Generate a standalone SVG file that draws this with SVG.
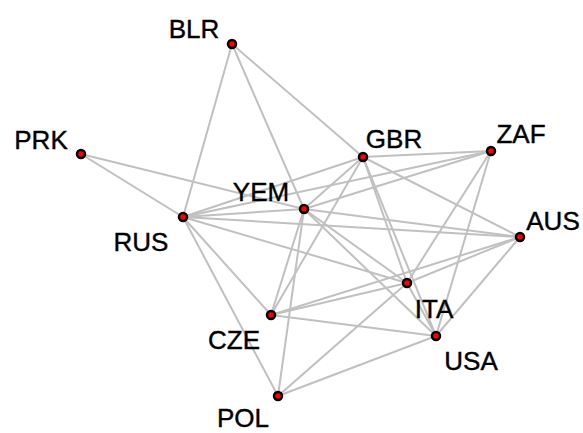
<svg xmlns="http://www.w3.org/2000/svg" width="583" height="433" viewBox="0 0 583 433">
<style>
.e{stroke:#c0c0c0;stroke-width:2;fill:none}
.n{fill:#ff0000;stroke:#000;stroke-width:2.5}
.t{font-family:"Liberation Sans",Arial,sans-serif;font-size:26px;fill:#000;stroke:#000;stroke-width:0.4;text-anchor:middle}
</style>
<rect width="583" height="433" fill="#fff"/>
<g id="edges">
<line class="e" x1="232" y1="44" x2="183" y2="217"/>
<line class="e" x1="232" y1="44" x2="304" y2="209"/>
<line class="e" x1="232" y1="44" x2="363" y2="157"/>
<line class="e" x1="81" y1="154" x2="183" y2="217"/>
<line class="e" x1="81" y1="154" x2="304" y2="209"/>
<line class="e" x1="183" y1="217" x2="304" y2="209"/>
<line class="e" x1="183" y1="217" x2="363" y2="157"/>
<line class="e" x1="183" y1="217" x2="491" y2="151"/>
<line class="e" x1="183" y1="217" x2="520" y2="237"/>
<line class="e" x1="183" y1="217" x2="271" y2="315"/>
<line class="e" x1="183" y1="217" x2="278" y2="396"/>
<line class="e" x1="183" y1="217" x2="407" y2="283"/>
<line class="e" x1="304" y1="209" x2="363" y2="157"/>
<line class="e" x1="304" y1="209" x2="491" y2="151"/>
<line class="e" x1="304" y1="209" x2="520" y2="237"/>
<line class="e" x1="304" y1="209" x2="407" y2="283"/>
<line class="e" x1="304" y1="209" x2="271" y2="315"/>
<line class="e" x1="304" y1="209" x2="278" y2="396"/>
<line class="e" x1="304" y1="209" x2="436" y2="336"/>
<line class="e" x1="363" y1="157" x2="491" y2="151"/>
<line class="e" x1="363" y1="157" x2="520" y2="237"/>
<line class="e" x1="363" y1="157" x2="407" y2="283"/>
<line class="e" x1="363" y1="157" x2="436" y2="336"/>
<line class="e" x1="363" y1="157" x2="271" y2="315"/>
<line class="e" x1="491" y1="151" x2="407" y2="283"/>
<line class="e" x1="491" y1="151" x2="436" y2="336"/>
<line class="e" x1="520" y1="237" x2="407" y2="283"/>
<line class="e" x1="520" y1="237" x2="436" y2="336"/>
<line class="e" x1="520" y1="237" x2="271" y2="315"/>
<line class="e" x1="407" y1="283" x2="436" y2="336"/>
<line class="e" x1="407" y1="283" x2="271" y2="315"/>
<line class="e" x1="407" y1="283" x2="278" y2="396"/>
<line class="e" x1="436" y1="336" x2="271" y2="315"/>
<line class="e" x1="436" y1="336" x2="278" y2="396"/>
</g>
<g id="BLR"><circle class="n" cx="232" cy="44" r="4"/><text class="t" x="194" y="38">BLR</text></g>
<g id="PRK"><circle class="n" cx="81" cy="154" r="4"/><text class="t" x="41" y="149">PRK</text></g>
<g id="RUS"><circle class="n" cx="183" cy="217" r="4"/><text class="t" x="141" y="251">RUS</text></g>
<g id="YEM"><circle class="n" cx="304" cy="209" r="4"/><text class="t" x="261" y="201">YEM</text></g>
<g id="GBR"><circle class="n" cx="363" cy="157" r="4"/><text class="t" x="394" y="148">GBR</text></g>
<g id="ZAF"><circle class="n" cx="491" cy="151" r="4"/><text class="t" x="521" y="143">ZAF</text></g>
<g id="AUS"><circle class="n" cx="520" cy="237" r="4"/><text class="t" x="553" y="230">AUS</text></g>
<g id="ITA"><circle class="n" cx="407" cy="283" r="4"/><text class="t" x="434" y="318">ITA</text></g>
<g id="USA"><circle class="n" cx="436" cy="336" r="4"/><text class="t" x="471" y="370">USA</text></g>
<g id="CZE"><circle class="n" cx="271" cy="315" r="4"/><text class="t" x="234" y="349">CZE</text></g>
<g id="POL"><circle class="n" cx="278" cy="396" r="4"/><text class="t" x="243" y="427">POL</text></g>
</svg>
